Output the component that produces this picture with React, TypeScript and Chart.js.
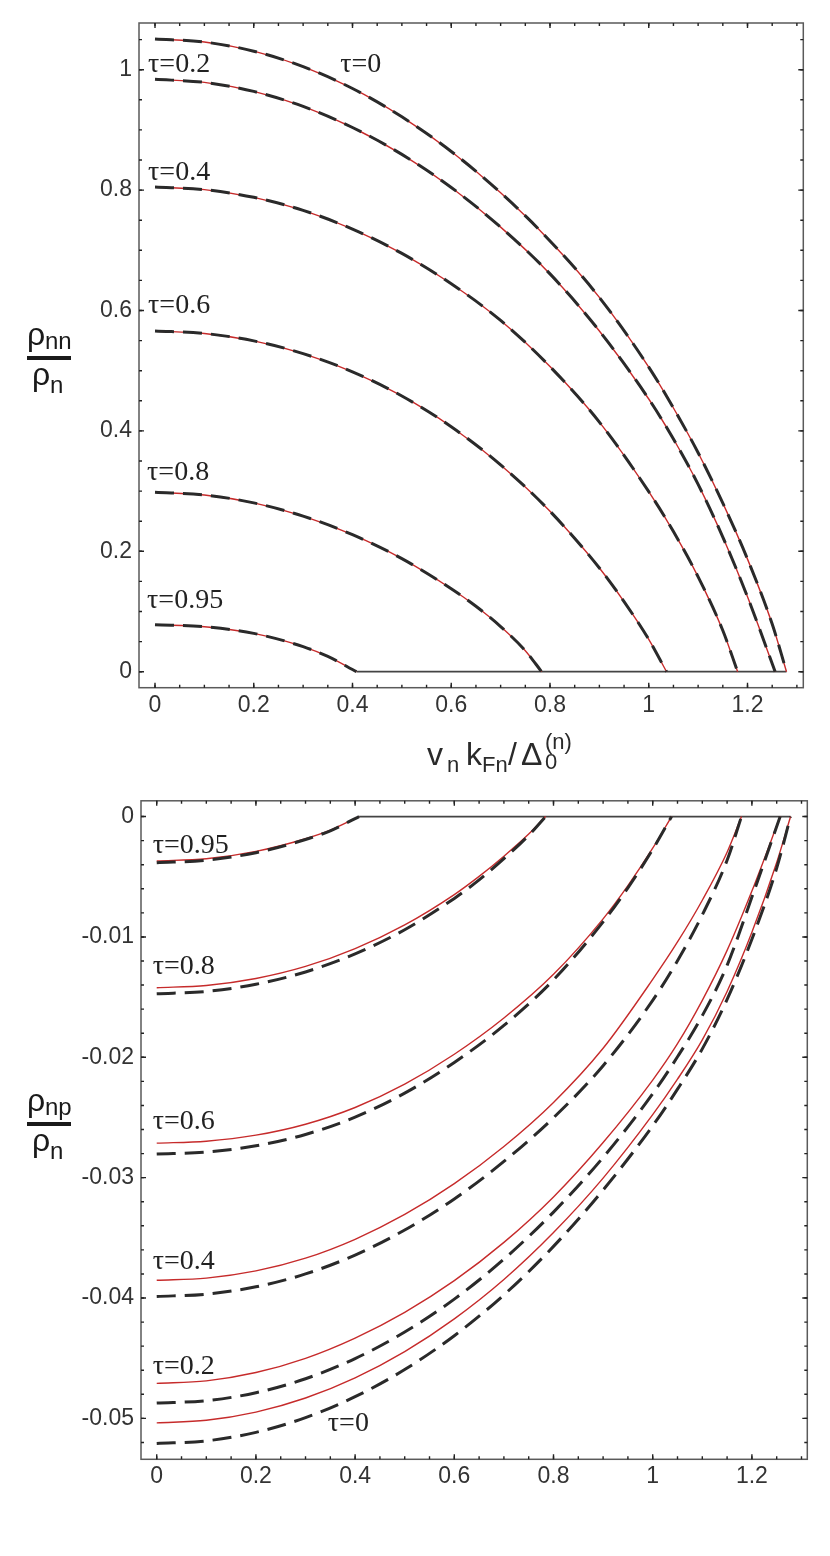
import React, { useEffect, useRef } from 'react'
import { Chart, registerables } from 'chart.js'

Chart.register(...registerables)

type Pt = [number, number]

// ---- upper panel: rho_nn / rho_n (solid and dashed lie on top of each other)
const nnTau0: Pt[] = [[0, 1.051], [0.1, 1.046], [0.2, 1.0308], [0.3, 1.0051], [0.4, 0.9688], [0.5, 0.9217], [0.6, 0.8642], [0.7, 0.7957], [0.8, 0.7156], [0.9, 0.6217], [1, 0.506], [1.05, 0.438], [1.1, 0.3637], [1.15, 0.28], [1.2, 0.187], [1.25, 0.0791], [1.279, 0]]
const nnTau02: Pt[] = [[0, 0.984], [0.1, 0.979], [0.2, 0.964], [0.3, 0.939], [0.4, 0.904], [0.5, 0.8593], [0.6, 0.8044], [0.7, 0.7385], [0.8, 0.6608], [0.9, 0.566], [1, 0.453], [1.05, 0.3865], [1.1, 0.3112], [1.15, 0.2236], [1.2, 0.1243], [1.256, 0]]
const nnTau04: Pt[] = [[0, 0.805], [0.1, 0.8008], [0.2, 0.788], [0.3, 0.7663], [0.4, 0.7352], [0.5, 0.6948], [0.6, 0.6444], [0.7, 0.5835], [0.8, 0.5068], [0.9, 0.4146], [1, 0.299], [1.05, 0.2328], [1.1, 0.1576], [1.15, 0.0684], [1.18, 0]]
const nnTau06: Pt[] = [[0, 0.566], [0.1, 0.5619], [0.2, 0.5495], [0.3, 0.5284], [0.4, 0.4982], [0.5, 0.458], [0.6, 0.4069], [0.7, 0.3435], [0.8, 0.2665], [0.9, 0.1723], [0.95, 0.1163], [1, 0.0536], [1.036, 0]]
const nnTau08: Pt[] = [[0, 0.298], [0.1, 0.2936], [0.2, 0.2804], [0.3, 0.2584], [0.4, 0.2276], [0.5, 0.1878], [0.6, 0.1378], [0.65, 0.1087], [0.7, 0.075], [0.75, 0.0348], [0.783, 0]]
const nnTau095: Pt[] = [[0, 0.078], [0.1, 0.0747], [0.2, 0.0636], [0.3, 0.0416], [0.35, 0.0253], [0.408, 0]]
const nnZero: Pt[] = [[0.408, 0], [1.279, 0]]

// ---- lower panel: rho_np / rho_n, red solid and black dashed
const npRed095: Pt[] = [[0, -0.00369], [0.1, -0.0035], [0.2, -0.00289], [0.3, -0.00184], [0.35, -0.00113], [0.408, 0]]
const npDash095: Pt[] = [[0, -0.00383], [0.1, -0.00363], [0.2, -0.003], [0.3, -0.00191], [0.35, -0.00118], [0.408, 0]]
const npRed08: Pt[] = [[0, -0.01422], [0.1, -0.01403], [0.2, -0.01345], [0.3, -0.01245], [0.4, -0.01097], [0.5, -0.009], [0.6, -0.00648], [0.65, -0.00497], [0.7, -0.00329], [0.75, -0.00145], [0.784, 0]]
const npDash08: Pt[] = [[0, -0.01472], [0.1, -0.01453], [0.2, -0.01393], [0.3, -0.01291], [0.4, -0.01141], [0.5, -0.0094], [0.6, -0.0068], [0.65, -0.00526], [0.7, -0.0035], [0.75, -0.00156], [0.784, 0]]
const npRed06: Pt[] = [[0, -0.02713], [0.1, -0.02697], [0.2, -0.02647], [0.3, -0.02556], [0.4, -0.02417], [0.5, -0.02223], [0.6, -0.01975], [0.7, -0.01674], [0.8, -0.01311], [0.9, -0.0085], [0.95, -0.00574], [1, -0.00263], [1.038, 0]]
const npDash06: Pt[] = [[0, -0.02803], [0.1, -0.02787], [0.2, -0.02735], [0.3, -0.02641], [0.4, -0.02497], [0.5, -0.02298], [0.6, -0.02043], [0.7, -0.01735], [0.8, -0.01357], [0.9, -0.00875], [0.95, -0.00592], [1, -0.00273], [1.038, 0]]
const npRed04: Pt[] = [[0, -0.03853], [0.1, -0.03835], [0.2, -0.03775], [0.3, -0.03669], [0.4, -0.03512], [0.5, -0.03306], [0.6, -0.0305], [0.7, -0.02741], [0.8, -0.02375], [0.9, -0.01925], [1, -0.01353], [1.05, -0.01042], [1.1, -0.00695], [1.15, -0.00296], [1.179, 0]]
const npDash04: Pt[] = [[0, -0.03987], [0.1, -0.03968], [0.2, -0.03907], [0.3, -0.038], [0.4, -0.03643], [0.5, -0.03435], [0.6, -0.03177], [0.7, -0.02865], [0.8, -0.02502], [0.9, -0.0207], [1, -0.01527], [1.05, -0.01198], [1.1, -0.00817], [1.15, -0.00363], [1.179, 0]]
const npRed02: Pt[] = [[0, -0.04709], [0.1, -0.04688], [0.2, -0.04619], [0.3, -0.04501], [0.4, -0.04333], [0.5, -0.04119], [0.6, -0.03856], [0.7, -0.03538], [0.8, -0.0316], [0.9, -0.02708], [1, -0.02189], [1.05, -0.01887], [1.1, -0.01527], [1.15, -0.01112], [1.2, -0.00619], [1.257, 0]]
const npDash02: Pt[] = [[0, -0.04873], [0.1, -0.04853], [0.2, -0.04787], [0.3, -0.04671], [0.4, -0.04503], [0.5, -0.04283], [0.6, -0.04009], [0.7, -0.03677], [0.8, -0.03286], [0.9, -0.02832], [1, -0.02303], [1.05, -0.01996], [1.1, -0.01654], [1.15, -0.01236], [1.2, -0.00669], [1.257, 0]]
const npRed0: Pt[] = [[0, -0.05037], [0.1, -0.05016], [0.2, -0.04948], [0.3, -0.04831], [0.4, -0.04663], [0.5, -0.04445], [0.6, -0.04173], [0.7, -0.03846], [0.8, -0.03456], [0.9, -0.03004], [1, -0.02477], [1.05, -0.02182], [1.1, -0.01855], [1.15, -0.01453], [1.2, -0.00962], [1.25, -0.00381], [1.278, 0]]
const npDash0: Pt[] = [[0, -0.05209], [0.1, -0.05187], [0.2, -0.05116], [0.3, -0.04994], [0.4, -0.0482], [0.5, -0.04594], [0.6, -0.04313], [0.7, -0.03974], [0.8, -0.03571], [0.9, -0.03103], [1, -0.02569], [1.05, -0.02265], [1.1, -0.0193], [1.15, -0.01519], [1.2, -0.01019], [1.25, -0.00428], [1.278, 0]]
const npZero: Pt[] = [[0.408, 0], [1.278, 0]]

// ---- ticks
const xMajor = [0, 0.2, 0.4, 0.6, 0.8, 1, 1.2]
const xMajorLabels = ['0', '0.2', '0.4', '0.6', '0.8', '1', '1.2']
const nnYMajor = [0, 0.2, 0.4, 0.6, 0.8, 1]
const nnYMajorLabels = ['0', '0.2', '0.4', '0.6', '0.8', '1']
const npYMajor = [0, -0.01, -0.02, -0.03, -0.04, -0.05]
const npYMajorLabels = ['0', '-0.01', '-0.02', '-0.03', '-0.04', '-0.05']

// curve labels, anchored in data units (left edge, baseline)
interface TauLabel { text: string; x: number; y: number }
const nnTauLabels: TauLabel[] = [
  { text: 'τ=0.2', x: -0.014, y: 0.996 },
  { text: 'τ=0', x: 0.375, y: 0.996 },
  { text: 'τ=0.4', x: -0.014, y: 0.817 },
  { text: 'τ=0.6', x: -0.014, y: 0.596 },
  { text: 'τ=0.8', x: -0.016, y: 0.318 },
  { text: 'τ=0.95', x: -0.016, y: 0.106 },
]
const npTauLabels: TauLabel[] = [
  { text: 'τ=0.95', x: -0.008, y: -0.00301 },
  { text: 'τ=0.8', x: -0.008, y: -0.0131 },
  { text: 'τ=0.6', x: -0.008, y: -0.02598 },
  { text: 'τ=0.4', x: -0.008, y: -0.03763 },
  { text: 'τ=0.2', x: -0.008, y: -0.04632 },
  { text: 'τ=0', x: 0.345, y: -0.05108 },
]

const SANS = '"Liberation Sans", Arial, Helvetica, sans-serif'
const SERIF = '"Liberation Serif", "Times New Roman", serif'

function steps(from: number, to: number, step: number) {
  const out: number[] = []
  const n = Math.round((to - from) / step)
  for (let i = 0; i <= n; i++) out.push(from + i * step)
  return out
}

function labelFor(values: number[], labels: string[], v: number) {
  const i = values.findIndex(t => Math.abs(t - v) < 1e-9)
  return i < 0 ? '' : labels[i]
}

type Kind = 'red' | 'dash' | 'zero'
interface Curve { points: Pt[]; kind: Kind }

function styleOf(kind: Kind) {
  if (kind === 'dash') return { borderColor: '#2a2a2a', borderWidth: 3, borderDash: [19, 9], order: 0 }
  if (kind === 'red') return { borderColor: '#c62b2b', borderWidth: 1.4, borderDash: [], order: 1 }
  return { borderColor: '#444', borderWidth: 1.8, borderDash: [], order: 2 }
}

interface PanelProps {
  width: number
  height: number
  area: { left: number; top: number; right: number; bottom: number }
  xMin: number
  xMax: number
  yMin: number
  yMax: number
  yMajor: number[]
  yMajorLabels: string[]
  yMinor: number[]
  curves: Curve[]
  tauLabels: TauLabel[]
  sub: string
  barY: number
  xTitle: boolean
}

function Panel(p: PanelProps) {
  const canvasRef = useRef<HTMLCanvasElement>(null)

  useEffect(() => {
    if (!canvasRef.current) return
    const xMinor = steps(0, 1.3, 0.05)

    const deco = {
      id: 'deco',
      afterDatasetsDraw(chart: any) {
        const ctx = chart.ctx as CanvasRenderingContext2D
        const { left, top, right, bottom } = chart.chartArea
        const xs = chart.scales.x
        const ys = chart.scales.y
        ctx.save()
        // frame
        ctx.strokeStyle = '#5a5a5a'
        ctx.lineWidth = 1.5
        ctx.strokeRect(left, top, right - left, bottom - top)
        // inward ticks on all four sides
        ctx.strokeStyle = '#222'
        ctx.lineWidth = 1.4
        const tickX = (v: number, len: number) => {
          const px = xs.getPixelForValue(v)
          ctx.beginPath()
          ctx.moveTo(px, bottom); ctx.lineTo(px, bottom - len)
          ctx.moveTo(px, top); ctx.lineTo(px, top + len)
          ctx.stroke()
        }
        const tickY = (v: number, len: number) => {
          const py = ys.getPixelForValue(v)
          ctx.beginPath()
          ctx.moveTo(left, py); ctx.lineTo(left + len, py)
          ctx.moveTo(right, py); ctx.lineTo(right - len, py)
          ctx.stroke()
        }
        xMinor.forEach(v => tickX(v, 3))
        xMajor.forEach(v => tickX(v, 5))
        p.yMinor.forEach(v => tickY(v, 3))
        p.yMajor.forEach(v => tickY(v, 5))

        // tau labels
        ctx.fillStyle = '#222'
        ctx.font = `28px ${SERIF}`
        ctx.textAlign = 'left'
        ctx.textBaseline = 'alphabetic'
        p.tauLabels.forEach(l => ctx.fillText(l.text, xs.getPixelForValue(l.x), ys.getPixelForValue(l.y)))

        // y title: rho_sub / rho_n
        const by = p.barY
        ctx.fillStyle = '#1a1a1a'
        ctx.font = `32px ${SANS}`
        ctx.fillText('ρ', 27, by - 13)
        ctx.fillText('ρ', 32, by + 27)
        ctx.font = `24px ${SANS}`
        ctx.fillText(p.sub, 45, by - 9)
        ctx.fillText('n', 50, by + 35)
        ctx.fillRect(27, by - 2, 44, 4)

        // x title: v_n k_Fn / Delta_0^(n)
        if (p.xTitle) {
          const base = 765
          ctx.fillStyle = '#2a2a2a'
          ctx.font = `32px ${SANS}`
          ctx.fillText('v', 427, base)
          ctx.fillText('k', 466, base)
          ctx.fillText('/', 508, base)
          ctx.fillText('Δ', 521, base)
          ctx.font = `22px ${SANS}`
          ctx.fillText('n', 447, base + 7)
          ctx.fillText('Fn', 482, base + 7)
          ctx.fillText('0', 545, base + 4)
          ctx.fillText('(n)', 545, base - 16)
        }
        ctx.restore()
      },
    }

    const tickFont = { family: SANS, size: 23 }
    const chart = new Chart(canvasRef.current, {
      type: 'line',
      data: {
        datasets: p.curves.map(c => ({
          data: c.points.map(([x, y]) => ({ x, y })),
          ...styleOf(c.kind),
          pointRadius: 0,
          fill: false,
          cubicInterpolationMode: 'monotone' as const,
        })),
      },
      options: {
        responsive: false,
        animation: false,
        events: [],
        layout: { padding: { left: 0, top: p.area.top, right: p.width - p.area.right, bottom: 0 } },
        plugins: { legend: { display: false }, tooltip: { enabled: false } },
        scales: {
          x: {
            type: 'linear',
            min: p.xMin,
            max: p.xMax,
            border: { display: false },
            grid: { display: false, drawTicks: false },
            afterFit: (s: any) => { s.height = p.height - p.area.bottom },
            afterBuildTicks: (s: any) => { s.ticks = xMajor.map(value => ({ value })) },
            ticks: {
              autoSkip: false,
              maxRotation: 0,
              padding: 4,
              color: '#333',
              font: tickFont,
              callback: (v: any) => labelFor(xMajor, xMajorLabels, Number(v)),
            },
          },
          y: {
            type: 'linear',
            min: p.yMin,
            max: p.yMax,
            border: { display: false },
            grid: { display: false, drawTicks: false },
            afterFit: (s: any) => { s.width = p.area.left },
            afterBuildTicks: (s: any) => { s.ticks = p.yMajor.map(value => ({ value })) },
            ticks: {
              autoSkip: false,
              padding: 7,
              color: '#333',
              font: tickFont,
              callback: (v: any) => labelFor(p.yMajor, p.yMajorLabels, Number(v)),
            },
          },
        },
      },
      plugins: [deco],
    } as any)
    return () => chart.destroy()
  }, [])

  return <canvas ref={canvasRef} width={p.width} height={p.height} style={{ display: 'block' }} />
}

export default function App() {
  const nnCurves: Curve[] = [nnTau0, nnTau02, nnTau04, nnTau06, nnTau08, nnTau095].flatMap(points => [
    { points, kind: 'red' as Kind },
    { points, kind: 'dash' as Kind },
  ])
  nnCurves.push({ points: nnZero, kind: 'zero' })

  const npPairs: [Pt[], Pt[]][] = [
    [npRed0, npDash0], [npRed02, npDash02], [npRed04, npDash04],
    [npRed06, npDash06], [npRed08, npDash08], [npRed095, npDash095],
  ]
  const npCurves: Curve[] = npPairs.flatMap(([r, d]) => [
    { points: r, kind: 'red' as Kind },
    { points: d, kind: 'dash' as Kind },
  ])
  npCurves.push({ points: npZero, kind: 'zero' })

  return (
    <div style={{ position: 'absolute', left: 0, top: 0, width: 830, height: 1556, background: '#fff' }}>
      <Panel
        width={830}
        height={780}
        area={{ left: 139, top: 23, right: 803.3, bottom: 687.7 }}
        xMin={-0.0324}
        xMax={1.313}
        yMin={-0.0266}
        yMax={1.0776}
        yMajor={nnYMajor}
        yMajorLabels={nnYMajorLabels}
        yMinor={steps(0, 1.05, 0.05)}
        curves={nnCurves}
        tauLabels={nnTauLabels}
        sub="nn"
        barY={358}
        xTitle
      />
      <Panel
        width={830}
        height={776}
        area={{ left: 141, top: 12.3, right: 807.3, bottom: 679.3 }}
        xMin={-0.0317}
        xMax={1.3117}
        yMin={-0.0534}
        yMax={0.00131}
        yMajor={npYMajor}
        yMajorLabels={npYMajorLabels}
        yMinor={steps(-0.052, 0, 0.002)}
        curves={npCurves}
        tauLabels={npTauLabels}
        sub="np"
        barY={344}
        xTitle={false}
      />
    </div>
  )
}
